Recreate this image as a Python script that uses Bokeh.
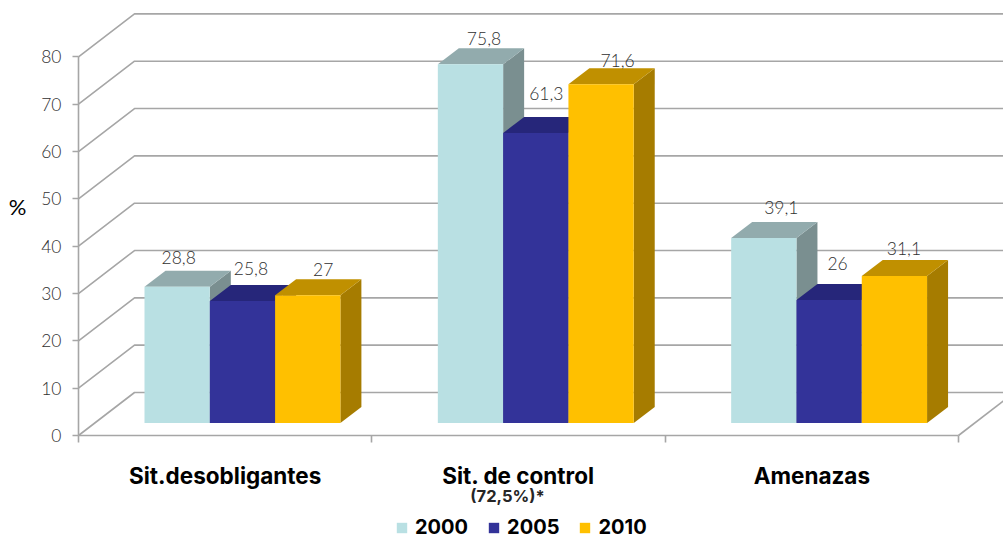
from bokeh.plotting import figure
from bokeh.models import Range1d, LinearAxis, FixedTicker, Legend, LegendItem, ColumnDataSource
from bokeh.core.properties import value
from bokeh.embed import file_html
from bokeh.resources import INLINE

categories = ["Sit.desobligantes", "Sit. de control", "Amenazas"]
years = ["2000", "2005", "2010"]
v2000 = [28.8, 75.8, 39.1]
v2005 = [25.8, 61.3, 26]
v2010 = [27, 71.6, 31.1]
y_ticks = [0, 10, 20, 30, 40, 50, 60, 70, 80]

# per-series label nudges in px: above the bar's back edge, and sideways
nudge2000 = [13, 10, 15]
nudge2005 = [16, 23, 21]
nudge2010 = [10, 8, 11]
shift2000 = [-9, 3, 7]
shift2005 = [-2, 0, -2]
shift2010 = [5, 6, -1]

front = ["#B9E0E3", "#333399", "#FFC000"]
top = ["#92ABAD", "#26267A", "#C09000"]
side = ["#7A8F90", "#22226A", "#A67C00"]
GRID = "#A6A6A6"
TXT = "#303030"
FONT = "Inter"
THIN = "Lato Light"

W, H = 1003, 538
X0, Y0 = 78, 435   # pixel of the axis origin
PX_X = 293.33   # px per category
PX_Y = 4.733    # px per %
WALL_DX, WALL_DY = 56 / PX_X, 43 / PX_Y
BAR_DX, BAR_DY = 21 / PX_X, 16 / PX_Y
BASE = 12.4 / PX_Y
BAR_W = 65.3 / PX_X
PAD = 66 / PX_X

p = figure(width=W, height=H, output_backend="svg", toolbar_location=None,
           x_axis_type=None, y_axis_type=None,
           x_range=Range1d(-X0 / PX_X, (W - X0) / PX_X), y_range=Range1d(-(H - Y0) / PX_Y, Y0 / PX_Y),
           min_border_left=0, min_border_right=0, min_border_top=0, min_border_bottom=0,
           outline_line_color=None, background_fill_color="white", border_fill_color="white")
p.grid.visible = False

# back wall and side wall lines
xs = [[0, WALL_DX, 3 + WALL_DX] for _ in y_ticks] + [[3, 3 + WALL_DX]]
ys = [[t, t + WALL_DY, t + WALL_DY] for t in y_ticks] + [[0, WALL_DY]]
p.multi_line(xs, ys, line_color=GRID, line_width=1.6)

renderers = []
for s, vals in enumerate([v2000, v2005, v2010]):
    lefts = [c + PAD + s * BAR_W for c in range(3)]
    rights = [l + BAR_W for l in lefts]
    sx, sy, tx, ty = [], [], [], []
    for l, r, v in zip(lefts, rights, vals):
        h = v + BASE
        sx.append([r, r + BAR_DX, r + BAR_DX, r])
        sy.append([BASE, BASE + BAR_DY, h + BAR_DY, h])
        tx.append([l, l + BAR_DX, r + BAR_DX, r])
        ty.append([h, h + BAR_DY, h + BAR_DY, h])
    p.patches(sx, sy, fill_color=side[s], line_color=None)
    p.patches(tx, ty, fill_color=top[s], line_color=None)
    q = p.quad(left=lefts, right=rights, bottom=[BASE] * 3, top=[v + BASE for v in vals],
               fill_color=front[s], line_color=None)
    renderers.append(q)

for s, (vals, nudge, shift) in enumerate(zip([v2000, v2005, v2010],
                                             [nudge2000, nudge2005, nudge2010],
                                             [shift2000, shift2005, shift2010])):
    src = ColumnDataSource(dict(
        x=[c + PAD + s * BAR_W + BAR_W / 2 + BAR_DX / 2 for c in range(3)],
        y=[v + BASE + BAR_DY for v in vals],
        t=[f"{v:g}".replace(".", ",") for v in vals],
        xoff=shift,
        off=[-n for n in nudge]))
    p.text("x", "y", text="t", source=src, x_offset="xoff", y_offset="off", text_align="center",
           text_baseline="middle", text_font=value(THIN), text_font_size="17.5px", text_color=TXT)

yax = LinearAxis(ticker=FixedTicker(ticks=y_ticks), bounds=(0, 80), fixed_location=0)
yax.axis_line_color = GRID
yax.axis_line_width = 1.6
yax.major_tick_line_color = GRID
yax.major_tick_line_width = 1.6
yax.major_tick_in = 0
yax.major_tick_out = 6
yax.minor_tick_line_color = None
yax.major_label_standoff = 11
yax.major_label_text_font = THIN
yax.major_label_text_font_size = "17.5px"
yax.major_label_text_color = TXT
p.add_layout(yax, "left")

xax = LinearAxis(ticker=FixedTicker(ticks=[0.5, 1.5, 2.5], minor_ticks=[0, 1, 2, 3]), bounds=(0, 3), fixed_location=0)
xax.axis_line_color = GRID
xax.axis_line_width = 1.6
xax.major_tick_line_color = None
xax.major_tick_in = 0
xax.major_tick_out = 0
xax.minor_tick_line_color = GRID
xax.minor_tick_line_width = 1.6
xax.minor_tick_in = 0
xax.minor_tick_out = 7
xax.major_label_overrides = {0.5: categories[0], 1.5: categories[1], 2.5: categories[2]}
xax.major_label_standoff = 19
xax.major_label_text_font = FONT
xax.major_label_text_font_style = "bold"
xax.major_label_text_font_size = "22.5px"
xax.major_label_text_color = "#000000"
p.add_layout(xax, "below")

p.text([(508 - 79) / PX_X], [-60 / PX_Y], text=["(72,5%)*"], text_align="center", text_baseline="middle",
       text_font=value(FONT), text_font_style="bold", text_font_size="16.5px", text_color="#262626")
p.text([-61 / PX_X], [48.3], text=["%"], text_align="center", text_baseline="middle",
       text_font=value("Lato"), text_font_size="22px", text_color="#000000")

legend = Legend(items=[LegendItem(label=y, renderers=[r]) for y, r in zip(years, renderers)],
                orientation="horizontal", location=(395, -1),
                glyph_width=13, glyph_height=13, label_standoff=7, spacing=19,
                padding=0, margin=0, border_line_color=None, background_fill_alpha=0,
                label_text_font=FONT, label_text_font_style="bold", label_text_font_size="20px",
                label_text_color="#000000")
p.add_layout(legend, "center")

open("out.html", "w").write(file_html(p, INLINE))
